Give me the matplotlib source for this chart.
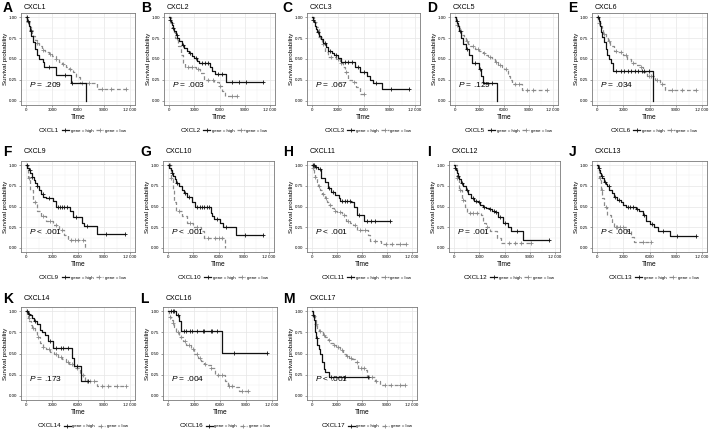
import numpy as np
import matplotlib
matplotlib.use("Agg")
import matplotlib.pyplot as plt  # noqa: E402
from matplotlib.lines import Line2D  # noqa: E402

plt.rcParams["font.family"] = ["Liberation Sans", "DejaVu Sans"]
plt.rcParams["mathtext.fontset"] = "custom"
plt.rcParams["mathtext.it"] = "Liberation Sans:italic"
plt.rcParams["mathtext.rm"] = "Liberation Sans"

GENES = ["CXCL1", "CXCL2", "CXCL3", "CXCL5", "CXCL6", "CXCL9", "CXCL10",
         "CXCL11", "CXCL12", "CXCL13", "CXCL14", "CXCL16", "CXCL17"]
LETTERS = ["A", "B", "C", "D", "E", "F", "G", "H", "I", "J", "K", "L", "M"]
PVALS = ["= .209", "= .003", "= .067", "= .129", "= .034", "< .001", "< .001",
         "< .001", "= .001", "< .001", "= .173", "= .004", "< .001"]

# survival curves: step times, survival after each step, censor times
cxcl1_hi_t = [0, 150, 300, 450, 600, 800, 1000, 1200, 1500, 1900, 2100, 3400, 5150, 6900]
cxcl1_hi_s = [1.0, 0.95, 0.90, 0.84, 0.78, 0.70, 0.62, 0.55, 0.50, 0.46, 0.40, 0.31, 0.21, 0.0]
cxcl1_hi_c = [100, 250, 500, 2600, 4500, 5300]
cxcl1_lo_t = [0, 100, 200, 300, 400, 500, 650, 800, 1000, 1200, 1500, 1800, 2200, 2600, 3000, 3400, 3800, 4200, 4600, 5000, 5400, 5800, 6200, 8200]
cxcl1_lo_s = [1.0, 0.97, 0.94, 0.91, 0.88, 0.85, 0.81, 0.77, 0.73, 0.69, 0.65, 0.61, 0.58, 0.56, 0.53, 0.50, 0.47, 0.44, 0.41, 0.38, 0.35, 0.29, 0.21, 0.14]
cxcl1_lo_c = [200, 600, 1300, 2000, 2800, 3500, 4300, 5100, 6500, 7300, 8800, 9800, 11500]

cxcl2_hi_t = [0, 100, 200, 300, 450, 600, 800, 1000, 1200, 1500, 1800, 2100, 2400, 2700, 3000, 3300, 3600, 4900, 5100, 5500, 6750]
cxcl2_hi_s = [1.0, 0.97, 0.94, 0.91, 0.87, 0.83, 0.79, 0.75, 0.71, 0.67, 0.63, 0.60, 0.57, 0.54, 0.51, 0.48, 0.45, 0.40, 0.36, 0.32, 0.22]
cxcl2_hi_c = [150, 500, 900, 1600, 2500, 3200, 3900, 4300, 4600, 5800, 6300, 7500, 8300, 9200, 11200]
cxcl2_lo_t = [0, 200, 400, 550, 750, 1100, 1400, 1600, 1900, 3200, 3700, 4100, 5400, 5900, 6300, 6700]
cxcl2_lo_s = [1.0, 0.93, 0.87, 0.82, 0.75, 0.65, 0.55, 0.45, 0.40, 0.38, 0.33, 0.25, 0.22, 0.18, 0.12, 0.06]
cxcl2_lo_c = [300, 900, 2200, 2700, 3500, 4600, 5200, 6000, 7500, 8100]

cxcl3_hi_t = [0, 100, 200, 300, 450, 600, 800, 1000, 1300, 1600, 1900, 2300, 2600, 3000, 3400, 5000, 5600, 6400, 6800, 7100, 8200]
cxcl3_hi_s = [1.0, 0.97, 0.94, 0.90, 0.86, 0.82, 0.78, 0.74, 0.69, 0.64, 0.60, 0.57, 0.55, 0.51, 0.47, 0.41, 0.35, 0.30, 0.25, 0.21, 0.14]
cxcl3_hi_c = [150, 700, 1500, 2100, 2800, 3800, 4200, 4600, 5300, 6000, 7500, 9200, 11300]
cxcl3_lo_t = [0, 200, 400, 750, 1100, 1500, 1900, 2800, 3200, 3600, 3800, 4200, 4700, 5100, 5600]
cxcl3_lo_s = [1.0, 0.94, 0.88, 0.76, 0.68, 0.58, 0.52, 0.50, 0.45, 0.40, 0.35, 0.25, 0.22, 0.16, 0.08]
cxcl3_lo_c = [300, 900, 1300, 2200, 3000, 3400, 4000, 4900, 6000]

cxcl5_hi_t = [0, 150, 300, 400, 550, 750, 1000, 1300, 1700, 2050, 3000, 3200, 3400, 5100]
cxcl5_hi_s = [1.0, 0.96, 0.93, 0.90, 0.83, 0.75, 0.68, 0.62, 0.55, 0.45, 0.38, 0.30, 0.21, 0.0]
cxcl5_hi_c = [200, 600, 1500, 2500, 3100, 4500]
cxcl5_lo_t = [0, 100, 200, 300, 450, 600, 800, 1050, 1300, 1600, 1900, 2400, 3000, 3400, 3750, 4100, 4500, 4900, 5300, 5700, 6000, 6500, 6750, 7000, 8200]
cxcl5_lo_s = [1.0, 0.97, 0.94, 0.91, 0.87, 0.83, 0.79, 0.75, 0.71, 0.68, 0.65, 0.62, 0.60, 0.57, 0.55, 0.52, 0.50, 0.46, 0.43, 0.40, 0.38, 0.30, 0.25, 0.20, 0.13]
cxcl5_lo_c = [300, 700, 1500, 2200, 2800, 3600, 4300, 5000, 5500, 6200, 7300, 7800, 8800, 9500, 11300]

cxcl6_hi_t = [0, 150, 300, 400, 550, 750, 950, 1150, 1350, 1550, 1850, 6400]
cxcl6_hi_s = [1.0, 0.95, 0.90, 0.82, 0.76, 0.70, 0.62, 0.55, 0.50, 0.45, 0.36, 0.0]
cxcl6_hi_c = [100, 2200, 2700, 3100, 3500, 3900, 4300, 4700, 5100, 5400, 5900]
cxcl6_lo_t = [0, 100, 200, 350, 500, 700, 950, 1200, 1500, 1950, 2400, 3000, 3400, 3900, 4400, 4900, 5300, 5700, 6600, 7200, 7800]
cxcl6_lo_s = [1.0, 0.97, 0.93, 0.89, 0.85, 0.80, 0.75, 0.71, 0.66, 0.60, 0.58, 0.55, 0.50, 0.45, 0.43, 0.40, 0.35, 0.30, 0.25, 0.20, 0.13]
cxcl6_lo_c = [250, 800, 1400, 2100, 2700, 3300, 4100, 5000, 5900, 6200, 6900, 7400, 8600, 9700, 11300]

cxcl9_hi_t = [0, 150, 300, 450, 650, 850, 1000, 1200, 1450, 1750, 2000, 2300, 3100, 3450, 5100, 5400, 6450, 6650, 8250]
cxcl9_hi_s = [1.0, 0.97, 0.94, 0.90, 0.86, 0.82, 0.78, 0.75, 0.70, 0.65, 0.62, 0.60, 0.57, 0.50, 0.45, 0.37, 0.30, 0.26, 0.17]
cxcl9_hi_c = [100, 400, 700, 1300, 1900, 2600, 3700, 3900, 4100, 4400, 4700, 5800, 7000, 9200, 11400]
cxcl9_lo_t = [0, 250, 450, 800, 1200, 1750, 2300, 3100, 3800, 4400, 4800, 6800]
cxcl9_lo_s = [1.0, 0.85, 0.70, 0.55, 0.45, 0.38, 0.32, 0.28, 0.22, 0.15, 0.10, 0.0]
cxcl9_lo_c = [300, 1000, 2000, 2700, 3400, 4100, 5200, 5600, 6000, 6600]

cxcl10_hi_t = [0, 150, 300, 450, 600, 800, 1000, 1300, 1600, 1900, 2250, 2800, 3200, 5050, 5250, 5450, 6200, 6550, 8050]
cxcl10_hi_s = [1.0, 0.97, 0.94, 0.91, 0.87, 0.83, 0.79, 0.75, 0.70, 0.66, 0.62, 0.55, 0.50, 0.42, 0.38, 0.35, 0.30, 0.25, 0.16]
cxcl10_hi_c = [100, 500, 1100, 2000, 2500, 3500, 3800, 4000, 4300, 4600, 4900, 5800, 6900, 9200, 11250]
cxcl10_lo_t = [0, 300, 550, 750, 950, 1700, 2250, 3000, 3950, 4300, 6800]
cxcl10_lo_s = [1.0, 0.85, 0.70, 0.55, 0.45, 0.38, 0.30, 0.25, 0.20, 0.12, 0.0]
cxcl10_lo_c = [200, 400, 1300, 2600, 3500, 4800, 5600, 6000, 6400]

cxcl11_hi_t = [0, 300, 750, 1100, 1500, 1900, 2250, 2800, 3200, 3400, 4700, 5050, 5450, 6200]
cxcl11_hi_s = [1.0, 0.98, 0.95, 0.85, 0.80, 0.72, 0.68, 0.64, 0.60, 0.57, 0.55, 0.50, 0.40, 0.33]
cxcl11_hi_c = [100, 200, 500, 1000, 2000, 2500, 3600, 3900, 4200, 4500, 5600, 6600, 7100, 7600, 9400]
cxcl11_lo_t = [0, 100, 200, 350, 550, 750, 950, 1200, 1500, 1800, 2050, 2350, 2600, 3000, 3550, 4100, 4500, 4900, 5450, 6700, 6900, 8250]
cxcl11_lo_s = [1.0, 0.96, 0.91, 0.86, 0.80, 0.75, 0.70, 0.65, 0.60, 0.56, 0.52, 0.48, 0.45, 0.43, 0.40, 0.33, 0.30, 0.28, 0.22, 0.15, 0.08, 0.05]
cxcl11_lo_c = [150, 400, 800, 1300, 1700, 2200, 2800, 3300, 3800, 4300, 5100, 5800, 6300, 7500, 8900, 9600, 10500, 11250]

cxcl12_hi_t = [0, 100, 200, 300, 450, 600, 800, 1100, 1400, 1700, 2050, 2400, 2800, 3100, 3400, 3800, 4150, 4500, 4900, 5250, 5800, 6400, 6750, 8200]
cxcl12_hi_s = [1.0, 0.97, 0.94, 0.91, 0.87, 0.83, 0.79, 0.75, 0.70, 0.65, 0.60, 0.57, 0.55, 0.52, 0.50, 0.48, 0.47, 0.45, 0.43, 0.37, 0.30, 0.25, 0.20, 0.10]
cxcl12_hi_c = [150, 500, 900, 1500, 2200, 2600, 3000, 3600, 4300, 4700, 5000, 5500, 6100, 7500, 11300]
cxcl12_lo_t = [0, 300, 550, 950, 1300, 1500, 3200, 3400, 3750, 4300, 5050, 5600]
cxcl12_lo_s = [1.0, 0.85, 0.70, 0.58, 0.50, 0.42, 0.40, 0.30, 0.25, 0.20, 0.12, 0.06]
cxcl12_lo_c = [400, 700, 1100, 1900, 2300, 2700, 3900, 6500, 7200, 8000, 9200]

cxcl13_hi_t = [0, 100, 200, 300, 450, 600, 800, 1000, 1150, 1400, 1650, 1900, 2300, 2700, 3000, 3300, 4450, 4800, 5200, 5600, 6100, 6550, 6950, 8400]
cxcl13_hi_s = [1.0, 0.97, 0.94, 0.91, 0.87, 0.84, 0.80, 0.77, 0.75, 0.70, 0.66, 0.62, 0.58, 0.55, 0.52, 0.50, 0.47, 0.44, 0.40, 0.33, 0.29, 0.25, 0.20, 0.14]
cxcl13_hi_c = [150, 500, 900, 1300, 2000, 2500, 3500, 3800, 4100, 4600, 5400, 6300, 7500, 9200, 11300]
cxcl13_lo_t = [0, 200, 400, 600, 800, 1150, 1550, 1750, 1900, 3450, 3850, 4250]
cxcl13_lo_s = [1.0, 0.85, 0.70, 0.60, 0.50, 0.40, 0.35, 0.30, 0.25, 0.20, 0.13, 0.07]
cxcl13_lo_c = [300, 500, 1000, 2100, 2300, 2600, 3000, 5200, 6200]

cxcl14_hi_t = [0, 200, 400, 650, 900, 1200, 1550, 1800, 2150, 2500, 3050, 5250, 5500, 6350]
cxcl14_hi_s = [1.0, 0.97, 0.95, 0.92, 0.88, 0.85, 0.78, 0.75, 0.72, 0.65, 0.57, 0.45, 0.35, 0.18]
cxcl14_hi_c = [100, 300, 1000, 2700, 3500, 4000, 4300, 4800, 5900, 7100]
cxcl14_lo_t = [0, 100, 200, 350, 500, 700, 1000, 1250, 1550, 1900, 2300, 2800, 3250, 3700, 4200, 4600, 4950, 5500, 6250, 6800, 8150]
cxcl14_lo_s = [1.0, 0.96, 0.92, 0.88, 0.84, 0.80, 0.75, 0.70, 0.62, 0.58, 0.55, 0.52, 0.50, 0.46, 0.43, 0.40, 0.38, 0.33, 0.25, 0.18, 0.12]
cxcl14_lo_c = [300, 800, 1400, 2000, 2600, 3400, 4000, 4800, 5300, 5900, 6600, 7000, 7400, 7800, 8800, 9500, 10500, 11500]

cxcl16_hi_t = [0, 950, 1300, 1500, 6200]
cxcl16_hi_s = [1.0, 0.95, 0.88, 0.77, 0.51]
cxcl16_hi_c = [300, 500, 700, 1100, 1800, 2100, 2500, 2800, 3300, 4000, 4200, 4900, 5100, 5700, 7600, 11450]
cxcl16_lo_t = [0, 100, 200, 350, 500, 700, 950, 1300, 1700, 2100, 2600, 3000, 3400, 3800, 4100, 4500, 4900, 5450, 6550, 6900, 7900, 8250]
cxcl16_lo_s = [1.0, 0.96, 0.93, 0.90, 0.86, 0.81, 0.75, 0.70, 0.65, 0.60, 0.55, 0.50, 0.45, 0.41, 0.38, 0.36, 0.33, 0.24, 0.17, 0.12, 0.10, 0.06]
cxcl16_lo_c = [200, 600, 1100, 1500, 2000, 2400, 2900, 3300, 3700, 4300, 5000, 5800, 6200, 7000, 7400, 8600, 9250]

cxcl17_hi_t = [0, 100, 200, 300, 400, 500, 650, 800, 1000, 1150, 1250, 1400, 1600, 2000]
cxcl17_hi_s = [1.0, 0.95, 0.90, 0.83, 0.75, 0.68, 0.60, 0.55, 0.50, 0.45, 0.40, 0.32, 0.28, 0.22]
cxcl17_hi_c = [150, 600, 2300, 4000, 6700]
cxcl17_lo_t = [0, 100, 200, 300, 450, 600, 800, 1050, 1300, 1600, 1900, 2200, 2500, 2900, 3300, 3750, 4100, 4400, 4800, 5150, 5550, 6300, 6650, 7500, 8100]
cxcl17_lo_s = [1.0, 0.97, 0.94, 0.90, 0.85, 0.80, 0.77, 0.75, 0.72, 0.70, 0.66, 0.62, 0.60, 0.58, 0.54, 0.50, 0.47, 0.45, 0.43, 0.40, 0.33, 0.30, 0.22, 0.18, 0.13]
cxcl17_lo_c = [200, 500, 900, 1400, 2000, 2600, 3100, 3600, 4200, 4700, 5400, 5900, 6200, 6800, 7200, 7700, 8700, 9500, 10500, 11200]

CURVES = [
    (cxcl1_hi_t, cxcl1_hi_s, cxcl1_hi_c, cxcl1_lo_t, cxcl1_lo_s, cxcl1_lo_c),
    (cxcl2_hi_t, cxcl2_hi_s, cxcl2_hi_c, cxcl2_lo_t, cxcl2_lo_s, cxcl2_lo_c),
    (cxcl3_hi_t, cxcl3_hi_s, cxcl3_hi_c, cxcl3_lo_t, cxcl3_lo_s, cxcl3_lo_c),
    (cxcl5_hi_t, cxcl5_hi_s, cxcl5_hi_c, cxcl5_lo_t, cxcl5_lo_s, cxcl5_lo_c),
    (cxcl6_hi_t, cxcl6_hi_s, cxcl6_hi_c, cxcl6_lo_t, cxcl6_lo_s, cxcl6_lo_c),
    (cxcl9_hi_t, cxcl9_hi_s, cxcl9_hi_c, cxcl9_lo_t, cxcl9_lo_s, cxcl9_lo_c),
    (cxcl10_hi_t, cxcl10_hi_s, cxcl10_hi_c, cxcl10_lo_t, cxcl10_lo_s, cxcl10_lo_c),
    (cxcl11_hi_t, cxcl11_hi_s, cxcl11_hi_c, cxcl11_lo_t, cxcl11_lo_s, cxcl11_lo_c),
    (cxcl12_hi_t, cxcl12_hi_s, cxcl12_hi_c, cxcl12_lo_t, cxcl12_lo_s, cxcl12_lo_c),
    (cxcl13_hi_t, cxcl13_hi_s, cxcl13_hi_c, cxcl13_lo_t, cxcl13_lo_s, cxcl13_lo_c),
    (cxcl14_hi_t, cxcl14_hi_s, cxcl14_hi_c, cxcl14_lo_t, cxcl14_lo_s, cxcl14_lo_c),
    (cxcl16_hi_t, cxcl16_hi_s, cxcl16_hi_c, cxcl16_lo_t, cxcl16_lo_s, cxcl16_lo_c),
    (cxcl17_hi_t, cxcl17_hi_s, cxcl17_hi_c, cxcl17_lo_t, cxcl17_lo_s, cxcl17_lo_c),
]

X_TICKS = [0, 3000, 6000, 9000, 12000]
X_LABELS = ["0", "3000", "6000", "9000", "12 000"]
Y_TICKS = [0, 0.25, 0.5, 0.75, 1.0]
Y_LABELS = ["0.00", "0.25", "0.50", "0.75", "1.00"]

# panel boxes in pixels: left, top, right, bottom
W, H = 709, 432
RECTS = [(21, 13, 135, 105), (164, 13, 275, 105), (307, 13, 420, 105), (450, 13, 558, 105), (592, 13, 707, 105),
         (21, 161, 135, 252), (163, 161, 274, 252), (307, 161, 417, 252), (449, 161, 560, 252), (592, 161, 707, 252),
         (21, 307, 135, 400), (163, 307, 277, 400), (307, 307, 417, 400)]
LETTER_X = [3, 141, 282, 427, 568, 3, 140, 283, 427, 569, 3, 140, 283]
ROW_Y = {13: 8, 161: 152, 307: 299}

HI_COLOR = "#111111"
LO_COLOR = "#8a8a8a"


def km(ax, t, s, cens, color, ls):
    t = list(t)
    s = list(s)
    end = max(t[-1], max(cens))
    ax.step(t + [end], s + [s[-1]], where="post", color=color, lw=0.9, ls=ls)
    idx = np.searchsorted(t, cens, side="right") - 1
    ax.plot(cens, np.array(s)[idx], ls="none", marker="+", ms=3, mew=0.6, color=color)


fig = plt.figure(figsize=(W / 100, H / 100), dpi=100)
for i, gene in enumerate(GENES):
    l, t, r, b = RECTS[i]
    ax = fig.add_axes([l / W, 1 - b / H, (r - l) / W, (b - t) / H])
    hi_t, hi_s, hi_c, lo_t, lo_s, lo_c = CURVES[i]
    km(ax, lo_t, lo_s, lo_c, LO_COLOR, (0, (3, 2)))
    km(ax, hi_t, hi_s, hi_c, HI_COLOR, "-")
    ax.set_xlim(-600, 12600)
    ax.set_ylim(-0.05, 1.05)
    ax.set_xticks(X_TICKS, X_LABELS)
    ax.set_yticks(Y_TICKS, Y_LABELS)
    ax.set_xticks([1500, 4500, 7500, 10500], minor=True)
    ax.set_yticks([0.125, 0.375, 0.625, 0.875], minor=True)
    ax.grid(which="major", color="#e6e6e6", lw=0.5)
    ax.grid(which="minor", color="#f0f0f0", lw=0.3)
    ax.set_axisbelow(True)
    ax.tick_params(which="major", labelsize=3.2, length=1.5, width=0.4, color="#555555", pad=1)
    ax.tick_params(which="minor", length=0)
    for sp in ax.spines.values():
        sp.set_color("#7a7a7a")
        sp.set_linewidth(0.6)
    ax.set_xlabel("Time", fontsize=4.8, labelpad=1)
    ax.set_ylabel("Survival probability", fontsize=4.5, labelpad=1)
    ax.text(350, 0.2, "$P$ " + PVALS[i], fontsize=6, va="center", ha="left")

    handles = [Line2D([], [], ls="none"),
               Line2D([], [], color=HI_COLOR, lw=0.9, marker="+", ms=3, mew=0.6),
               Line2D([], [], color=LO_COLOR, lw=0.9, ls=(0, (3, 2)), marker="+", ms=3, mew=0.6)]
    leg = ax.legend(handles, [gene, "gene = high", "gene = low"], ncol=3, loc="center",
                    bbox_to_anchor=(0.5, -0.275), frameon=False, fontsize=3.2,
                    handlelength=1.6, handletextpad=0.4, columnspacing=0.6)
    leg.get_texts()[0].set_fontsize(4.5)

    ty = ROW_Y[t]
    fig.text(LETTER_X[i] / W, 1 - ty / H, LETTERS[i], fontsize=10, fontweight="bold", va="center", ha="left")
    fig.text((l + 3) / W, 1 - (ty - 0.5) / H, gene, fontsize=5, va="center", ha="left")

fig.savefig("out.png", dpi=100)
